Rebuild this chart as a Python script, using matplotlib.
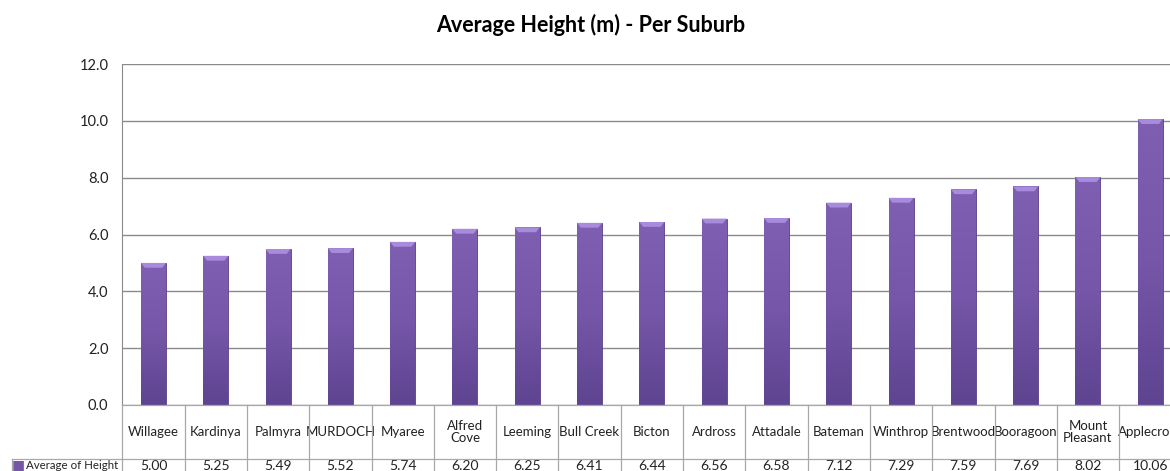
import numpy as np
import matplotlib.pyplot as plt
from matplotlib.colors import LinearSegmentedColormap
from matplotlib.patches import Polygon
import matplotlib.transforms as mtransforms

plt.rcParams['font.family'] = ['Lato', 'DejaVu Sans']

suburbs = ['Willagee', 'Kardinya', 'Palmyra', 'MURDOCH', 'Myaree', 'Alfred\nCove',
           'Leeming', 'Bull Creek', 'Bicton', 'Ardross', 'Attadale', 'Bateman',
           'Winthrop', 'Brentwood', 'Booragoon', 'Mount\nPleasant', 'Applecross']
avg_height = [5.00, 5.25, 5.49, 5.52, 5.74, 6.20, 6.25, 6.41, 6.44, 6.56, 6.58,
              7.12, 7.29, 7.59, 7.69, 8.02, 10.06]
y_ticks = [0, 2, 4, 6, 8, 10, 12]
series_name = 'Average of Height'

W, H = 1170, 471
fig = plt.figure(figsize=(W / 100, H / 100), dpi=100)
# plot area runs a little past the right edge of the canvas
ax = fig.add_axes([122.3 / W, (H - 405) / H, 17 * 62.3 / W, 341 / H])

x = np.arange(len(suburbs))
bars = ax.bar(x, avg_height, width=0.4, color='#7457a6', zorder=3,
              edgecolor='#5a3f86', linewidth=0.6)

# vertical shading on each bar plus a light bevel on top
grad = LinearSegmentedColormap.from_list('purp', ['#5e4491', '#7556a8', '#7f5fb2'])
for b in bars:
    x0, w, h = b.get_x(), b.get_width(), b.get_height()
    im = ax.imshow(np.linspace(0, 1, 100).reshape(-1, 1), cmap=grad, aspect='auto',
                   origin='lower', extent=[x0, x0 + w, 0, h], zorder=3)
    im.set_clip_path(b)
    cap = Polygon([[x0, h], [x0 + w, h], [x0 + w * 0.85, h - 0.17], [x0 + w * 0.15, h - 0.17]],
                  closed=True, facecolor='#a88bdc', edgecolor='none', zorder=4)
    ax.add_patch(cap)

ax.set_xlim(-0.5, len(suburbs) - 0.5)
ax.set_ylim(0, 12)
ax.set_yticks(y_ticks)
ax.set_yticklabels([f'{v:.1f}' for v in y_ticks], fontsize=10.5, color='#222222')
ax.tick_params(axis='y', length=0, pad=10)
ax.set_xticks([])
ax.yaxis.grid(True, color='#8a8a8a', linewidth=1)
ax.set_axisbelow(True)
for side in ['top', 'right', 'bottom']:
    ax.spines[side].set_visible(False)
ax.spines['left'].set_color('#8a8a8a')

ax.set_title('Average Height (m) - Per Suburb', fontsize=15.5, fontweight='bold',
             x=(591 - 122.3) / (17 * 62.3), y=1.0, pad=23)

# data table under the plot
tr = mtransforms.blended_transform_factory(ax.transData, ax.transAxes)
row1 = -54 / 341
row2 = -0.25
val_y = -60.5 / 341
line_kw = dict(color='#a8a8a8', linewidth=0.9, clip_on=False, zorder=5)
ax.plot([-0.5, len(suburbs) - 0.5], [0, 0], transform=tr, **line_kw)
ax.plot([-0.5, len(suburbs) - 0.5], [row1, row1], transform=tr, **line_kw)
for i in range(len(suburbs) + 1):
    ax.plot([i - 0.5, i - 0.5], [0, row2], transform=tr, **line_kw)

label_left = -0.5 - (122.3 - 12) / 62.3
ax.plot([label_left, -0.5], [row1, row1], transform=tr, **line_kw)
ax.plot([label_left, label_left], [row1, row2], transform=tr, **line_kw)

for i, (name, val) in enumerate(zip(suburbs, avg_height)):
    ax.text(i, row1 / 2, name, transform=tr, ha='center', va='center',
            fontsize=9.5, color='#222222', linespacing=1.1, clip_on=False)
    ax.text(i, val_y, f'{val:.2f}', transform=tr, ha='center', va='center',
            fontsize=10, color='#222222', clip_on=False)

ax.text(label_left + 6 / 62.3, val_y, '\u25A0', transform=tr, ha='center', va='center',
        fontsize=10, color='#7457a6', clip_on=False)
ax.text(label_left + 14 / 62.3, val_y, series_name, transform=tr, ha='left', va='center',
        fontsize=8.3, color='#222222', clip_on=False)

fig.savefig('out.png', dpi=100)
